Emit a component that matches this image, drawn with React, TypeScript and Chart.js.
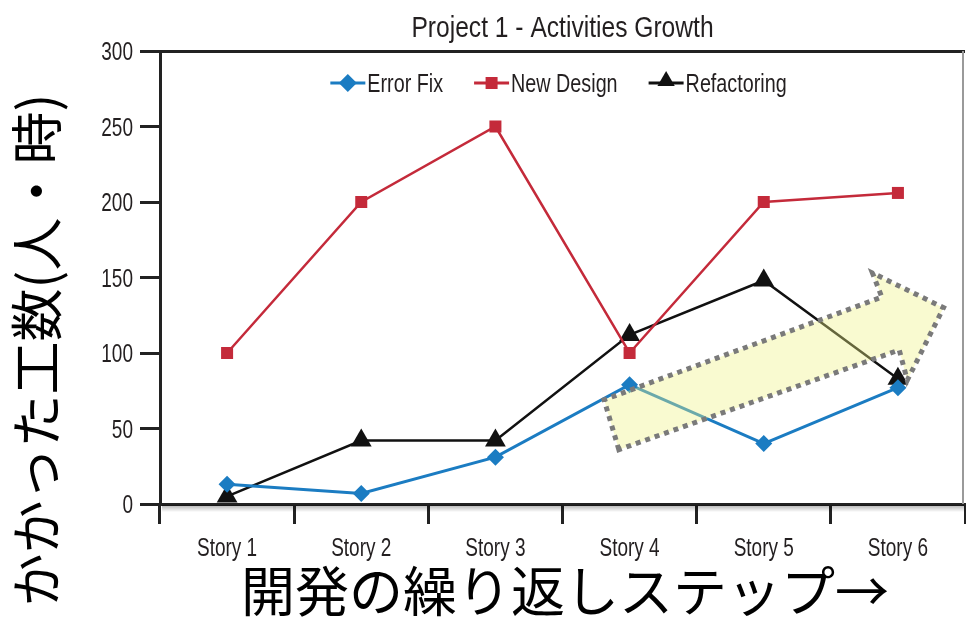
import React, { useEffect, useRef } from "react";
import { Chart, registerables } from "chart.js";

Chart.register(...registerables);

const categories = ["Story 1", "Story 2", "Story 3", "Story 4", "Story 5", "Story 6"];
const errorFix = [13, 7, 31, 79, 40, 77];
const newDesign = [100, 200, 250, 100, 200, 206];
const refactoring = [5, 42, 42, 112, 148, 83];
const yMin = 0;
const yMax = 300;
const yStep = 50;
const chartTitle = "Project 1 - Activities Growth";
const yTitle = "かかった工数(人・時)";
const xTitle = "開発の繰り返しステップ→";
const seriesNames = ["Error Fix", "New Design", "Refactoring"];
// annotation arrow outline, in data space (category index, value)
const arrowIdx = [2.92, 2.81, 4.88, 4.81, 5.34, 5.07, 5.01];
const arrowVal = [36, 69, 137, 153, 130, 82, 102];

const BLUE = "#1b7cc2";
const RED = "#c42a3a";
const BLACK = "#111111";
const INK = "#231f20";
const SANS = '"Liberation Sans", Arial, sans-serif';
const CJK = '"Noto Sans CJK JP", "Noto Sans", sans-serif';

function squeezeText(
  ctx: CanvasRenderingContext2D,
  text: string,
  x: number,
  y: number,
  size: number,
  sx: number,
  align: CanvasTextAlign,
  baseline: CanvasTextBaseline
) {
  ctx.save();
  ctx.translate(x, y);
  ctx.scale(sx, 1);
  ctx.font = `${size}px ${SANS}`;
  ctx.textAlign = align;
  ctx.textBaseline = baseline;
  ctx.fillText(text, 0, 0);
  ctx.restore();
}

function drawMarker(ctx: CanvasRenderingContext2D, style: string, x: number, y: number, r: number, color: string) {
  ctx.save();
  ctx.fillStyle = color;
  ctx.beginPath();
  if (style === "rectRot") {
    ctx.moveTo(x, y - r);
    ctx.lineTo(x + r, y);
    ctx.lineTo(x, y + r);
    ctx.lineTo(x - r, y);
  } else if (style === "rect") {
    ctx.rect(x - r, y - r, 2 * r, 2 * r);
  } else {
    ctx.moveTo(x, y - r);
    ctx.lineTo(x + r * 0.866, y + r * 0.5);
    ctx.lineTo(x - r * 0.866, y + r * 0.5);
  }
  ctx.closePath();
  ctx.fill();
  ctx.restore();
}

const decorPlugin = {
  id: "decor",
  afterDatasetsDraw(chart: any) {
    const ctx: CanvasRenderingContext2D = chart.ctx;
    const xs = chart.scales.x;
    const ys = chart.scales.y;
    ctx.save();
    ctx.beginPath();
    arrowIdx.forEach((v, i) => {
      const px = xs.getPixelForValue(v);
      const py = ys.getPixelForValue(arrowVal[i]);
      if (i === 0) ctx.moveTo(px, py);
      else ctx.lineTo(px, py);
    });
    ctx.closePath();
    ctx.fillStyle = "rgba(238, 241, 132, 0.38)";
    ctx.fill();
    ctx.setLineDash([5, 5]);
    ctx.lineWidth = 5;
    ctx.strokeStyle = "#7a7a7a";
    ctx.stroke();
    ctx.restore();
  },
  afterDraw(chart: any) {
    const ctx: CanvasRenderingContext2D = chart.ctx;
    const a = chart.chartArea;
    const xs = chart.scales.x;
    const ys = chart.scales.y;
    ctx.save();
    // right frame line
    ctx.strokeStyle = "#9a9a9a";
    ctx.lineWidth = 2;
    ctx.beginPath();
    ctx.moveTo(a.right - 2, a.top);
    ctx.lineTo(a.right - 2, a.bottom);
    ctx.stroke();
    // shadow under x axis
    const g = ctx.createLinearGradient(0, a.bottom + 1, 0, a.bottom + 8);
    g.addColorStop(0, "rgba(0,0,0,0.3)");
    g.addColorStop(1, "rgba(0,0,0,0)");
    ctx.fillStyle = g;
    ctx.fillRect(a.left + 2, a.bottom + 1, a.right - a.left - 2, 7);

    ctx.fillStyle = INK;
    // tick labels
    categories.forEach((c, i) => {
      squeezeText(ctx, c, xs.getPixelForValue(i), a.bottom + 52, 25, 0.76, "center", "alphabetic");
    });
    ys.ticks.forEach((t: any) => {
      squeezeText(ctx, String(t.value), a.left - 27, ys.getPixelForValue(t.value) + 9, 25, 0.76, "right", "alphabetic");
    });

    const cx = (a.left + a.right) / 2;
    // title
    squeezeText(ctx, chartTitle, cx, 37, 30, 0.82, "center", "alphabetic");

    // legend
    const lsx = 0.76;
    const lsize = 26;
    ctx.font = `${lsize}px ${SANS}`;
    const colors = [BLUE, RED, BLACK];
    const styles = ["rectRot", "rect", "triangle"];
    const sizes = [9, 6, 10];
    const lineLen = 35;
    const gapText = 2;
    const gapItem = 31;
    const widths = seriesNames.map((n) => lineLen + gapText + ctx.measureText(n).width * lsx);
    const total = widths.reduce((s, w) => s + w, 0) + gapItem * (seriesNames.length - 1);
    let x = cx - 4 - total / 2;
    const ly = 83;
    seriesNames.forEach((n, i) => {
      ctx.strokeStyle = colors[i];
      ctx.lineWidth = 3;
      ctx.beginPath();
      ctx.moveTo(x, ly);
      ctx.lineTo(x + lineLen, ly);
      ctx.stroke();
      drawMarker(ctx, styles[i], x + lineLen / 2, styles[i] === "triangle" ? ly - 2 : ly, sizes[i], colors[i]);
      ctx.fillStyle = INK;
      squeezeText(ctx, n, x + lineLen + gapText, 92, lsize, lsx, "left", "alphabetic");
      x += widths[i] + gapItem;
    });

    // axis titles
    ctx.fillStyle = "#000";
    ctx.font = `54px ${CJK}`;
    ctx.textAlign = "center";
    ctx.textBaseline = "middle";
    ctx.fillText(xTitle, 565, 591);
    ctx.translate(37, 350);
    ctx.rotate(-Math.PI / 2);
    ctx.font = `53px ${CJK}`;
    ctx.fillText(yTitle, 0, 0);
    ctx.restore();
  },
};

export default function App() {
  const ref = useRef<HTMLCanvasElement | null>(null);
  useEffect(() => {
    if (!ref.current) return;
    const chart = new Chart(ref.current, {
      type: "line",
      data: {
        labels: categories,
        datasets: [
          {
            label: seriesNames[0],
            data: errorFix,
            borderColor: BLUE,
            backgroundColor: BLUE,
            borderWidth: 3,
            pointStyle: "rectRot",
            pointRadius: 8.5,
            pointBorderWidth: 0,
            pointBackgroundColor: BLUE,
            clip: false,
          },
          {
            label: seriesNames[1],
            data: newDesign,
            borderColor: RED,
            backgroundColor: RED,
            borderWidth: 2.5,
            pointStyle: "rect",
            pointRadius: 8.5,
            pointBorderWidth: 0,
            pointBackgroundColor: RED,
            clip: false,
          },
          {
            label: seriesNames[2],
            data: refactoring,
            borderColor: BLACK,
            backgroundColor: BLACK,
            borderWidth: 2.5,
            pointStyle: "triangle",
            pointRadius: 12,
            pointBorderWidth: 0,
            pointBackgroundColor: BLACK,
            clip: false,
          },
        ],
      },
      options: {
        responsive: false,
        animation: false,
        devicePixelRatio: 1,
        layout: { autoPadding: false, padding: { top: 51, right: 1, bottom: 0, left: 0 } },
        plugins: {
          legend: { display: false },
          title: { display: false },
          tooltip: { enabled: false },
        },
        elements: { line: { tension: 0 } },
        scales: {
          x: {
            type: "category",
            offset: true,
            grid: {
              offset: true,
              drawOnChartArea: false,
              drawTicks: true,
              tickLength: 20,
              tickWidth: 3,
              tickColor: "#222",
            },
            border: { display: true, color: "#222", width: 3 },
            ticks: { display: false, autoSkip: false },
            afterFit: (s: any) => {
              s.height = 113;
              s.paddingLeft = 0;
              s.paddingRight = 0;
            },
          },
          y: {
            min: yMin,
            max: yMax,
            grid: {
              drawOnChartArea: true,
              color: (c: any) => (c.tick && c.tick.value === yMax ? "#222" : "rgba(0,0,0,0)"),
              lineWidth: 3,
              tickLength: 20,
              tickWidth: 3,
              tickColor: "#222",
            },
            border: { display: true, color: "#222", width: 3 },
            ticks: { stepSize: yStep, display: false },
            afterFit: (s: any) => {
              s.width = 160;
            },
          },
        },
      },
      plugins: [decorPlugin],
    });
    return () => chart.destroy();
  }, []);
  return (
    <div style={{ position: "absolute", left: 0, top: 0, width: 966, height: 617, background: "#fff" }}>
      <canvas ref={ref} width={966} height={617} style={{ display: "block" }} />
    </div>
  );
}
